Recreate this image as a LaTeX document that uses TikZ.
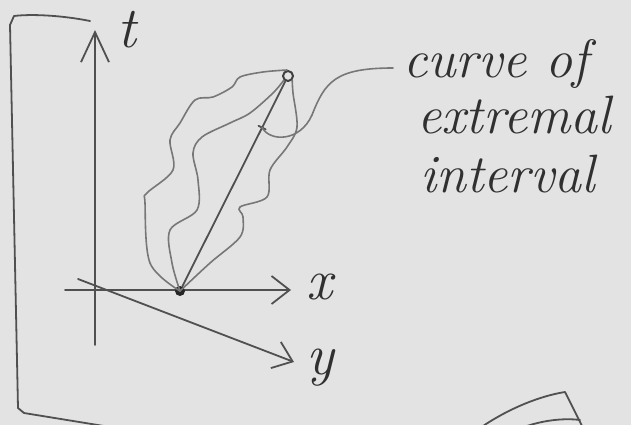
\documentclass[tikz,border=0pt]{standalone}
\usetikzlibrary{arrows.meta,calc}
\definecolor{bg}{HTML}{E3E3E3}
\definecolor{inkc}{HTML}{505050}
\definecolor{pencil}{HTML}{777777}
\definecolor{txt}{HTML}{303030}
\begin{document}
\begin{tikzpicture}[x=1pt,y=-1pt,line cap=round,line join=round,
  ink/.style={draw=inkc,line width=1.8pt},
  wave/.style={draw=pencil,line width=1.6pt},
  axis/.style={ink,-{Straight Barb[length=18pt,width=28pt,line width=1.8pt]}},
  hand/.style={text=txt,font=\fontsize{54}{58}\selectfont\itshape,inner sep=0pt,anchor=base west},
  lbl/.style={text=txt,font=\fontsize{58}{60}\selectfont\itshape,inner sep=0pt},
  endpt/.style={circle,inner sep=0pt,minimum size=10pt}]
\fill[bg] (0,0) rectangle (631,425);
\useasboundingbox (0,0) rectangle (631,425);
% left bracket
\draw[ink] (90,21) .. controls (60,15) and (30,14) .. (14,16) -- (10,25) -- (18,408) -- (24,413) -- (110,427);
% axes
\coordinate (tb) at (95,345);
\coordinate (tt) at (95,30);
\coordinate (xb) at (65,290);
\coordinate (xt) at (291,290);
\coordinate (yb) at (78,279);
\coordinate (yt) at (294,362);
\draw[axis,-{Straight Barb[length=30pt,width=28pt,line width=1.8pt]}] (tb) -- (tt);
\draw[axis] (xb) -- (xt);
\draw[axis] (yb) -- (yt);
\node[lbl] (tl) at (127,30) {t};
\node[lbl] (xl) at (320,287) {x};
\node[lbl] (yl) at (320,368) {y};
% endpoints
\node[endpt,fill=black!85] (A) at (180,291) {};
\node[endpt,draw=black!75,line width=2pt] (B) at (288,76) {};
% wavy curves
\draw[wave] plot[smooth,tension=0.55] coordinates {(A.center) (150,263) (145,203) (147,193) (173,170) (170,140) (180,123) (195,100) (213,97) (232,87) (240,77) (263,72) (287,70)};
\draw[wave] plot[smooth,tension=0.55] coordinates {(A.center) (172,263) (170,230) (197,210) (198,180) (193,153) (202,137) (230,123) (250,113) (273,93) (B.south west)};
\draw[wave] plot[smooth,tension=0.55] coordinates {(A.center) (210,263) (240,237) (243,217) (240,207) (267,197) (270,170) (287,147) (297,127) (293,93) (B.south east)};
% extremal line
\draw[ink] (A) -- (B);
\coordinate (T) at ($(A)!0.76!(B)$);
\draw[ink] ($(T)!4pt!90:(B)$) -- ($(T)!4pt!-90:(B)$);
% label
\coordinate (P) at (393,68);
\draw[wave] (T) .. controls (270,142) and (300,142) .. (312,115) .. controls (325,82) and (335,68) .. (P);
\node[hand] (l1) at (403,78) {curve of};
\node[hand] (l2) at (417,133) {extremal};
\node[hand] (l3) at (420,192) {interval};
% bottom right fragment
\draw[ink] (483,426) .. controls (510,408) and (540,396) .. (565,392) -- (582,426);
\draw[ink] (527,426) .. controls (545,420) and (565,418) .. (580,420);
\end{tikzpicture}
\end{document}
